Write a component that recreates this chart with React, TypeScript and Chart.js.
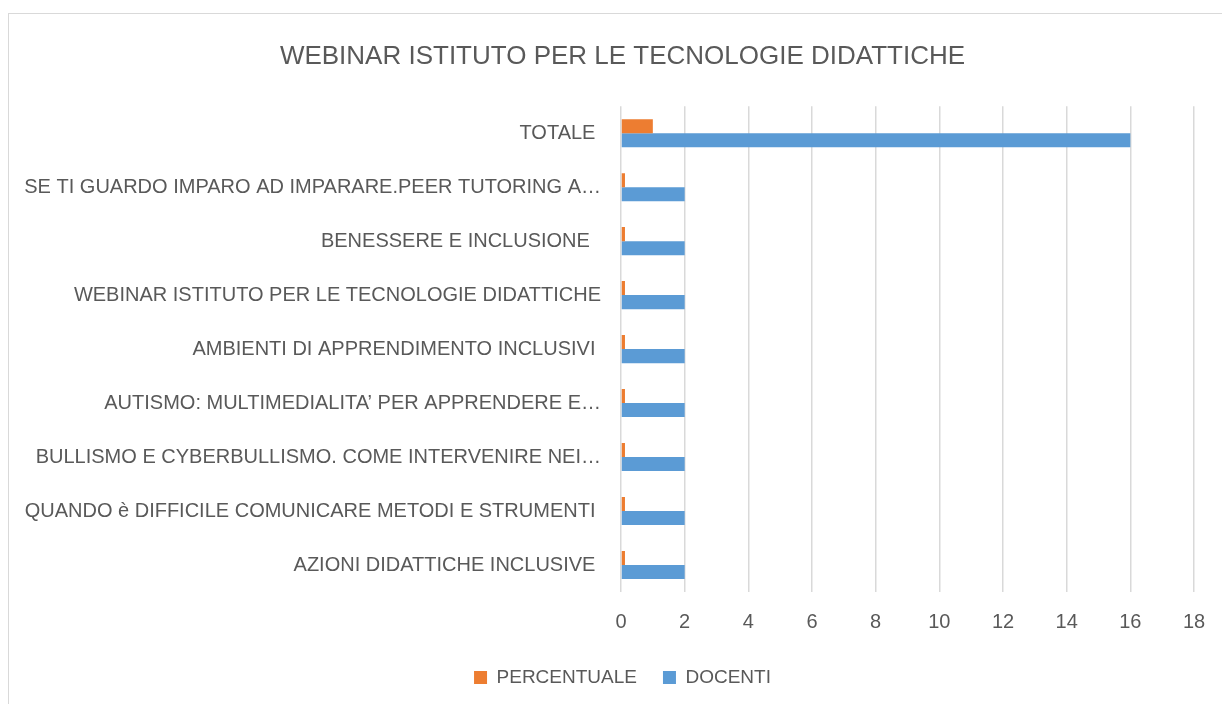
import React, { useEffect, useRef } from "react";
import { Chart, registerables } from "chart.js";

Chart.register(...registerables);

const categories = [
  "TOTALE ",
  "SE TI GUARDO IMPARO AD IMPARARE.PEER TUTORING A…",
  "BENESSERE E INCLUSIONE  ",
  "WEBINAR ISTITUTO PER LE TECNOLOGIE DIDATTICHE",
  "AMBIENTI DI APPRENDIMENTO INCLUSIVI ",
  "AUTISMO: MULTIMEDIALITA’ PER APPRENDERE E…",
  "BULLISMO E CYBERBULLISMO. COME INTERVENIRE NEI…",
  "QUANDO è DIFFICILE COMUNICARE METODI E STRUMENTI ",
  "AZIONI DIDATTICHE INCLUSIVE ",
];
const percentuale = [1, 0.125, 0.125, 0.125, 0.125, 0.125, 0.125, 0.125, 0.125];
const docenti = [16, 2, 2, 2, 2, 2, 2, 2, 2];
const xMax = 18;
const xStep = 2;
const title = "WEBINAR ISTITUTO PER LE TECNOLOGIE DIDATTICHE";

const FONT = "'Liberation Sans', Arial, sans-serif";
const TEXT = "#595959";

export default function App() {
  const ref = useRef<HTMLCanvasElement>(null);
  useEffect(() => {
    document.body.style.overflow = "hidden";
    const chart = new Chart(ref.current!, {
      type: "bar",
      data: {
        labels: categories,
        datasets: [
          {
            label: "PERCENTUALE",
            data: percentuale,
            backgroundColor: "#ED7D31",
            categoryPercentage: 0.52,
            barPercentage: 1,
          },
          {
            label: "DOCENTI",
            data: docenti,
            backgroundColor: "#5B9BD5",
            categoryPercentage: 0.52,
            barPercentage: 1,
          },
        ],
      },
      options: {
        indexAxis: "y",
        responsive: false,
        animation: false,
        layout: { padding: { left: 12, right: 12, top: 0, bottom: 17 } },
        plugins: {
          title: {
            display: true,
            text: title,
            color: TEXT,
            font: { family: FONT, size: 26, weight: "normal" },
            padding: { top: 27, bottom: 34 },
          },
          legend: {
            position: "bottom",
            labels: {
              color: TEXT,
              font: { family: FONT, size: 19 },
              boxWidth: 13,
              boxHeight: 13,
              padding: 26,
            },
          },
          tooltip: { enabled: false },
        },
        scales: {
          x: {
            min: 0,
            max: xMax,
            ticks: {
              stepSize: xStep,
              color: TEXT,
              font: { family: FONT, size: 20 },
              padding: 18,
            },
            grid: { color: "#d9d9d9", lineWidth: 1.5, drawTicks: false },
            border: { display: false },
            afterFit: (s: any) => {
              s.height = 50;
            },
          },
          y: {
            ticks: {
              color: TEXT,
              font: { family: FONT, size: 20 },
              padding: 20,
              autoSkip: false,
            },
            grid: { display: false, drawTicks: false },
            border: { display: false },
            afterFit: (s: any) => {
              s.width = 600;
            },
          },
          spacer: {
            type: "linear",
            position: "right",
            display: true,
            ticks: { display: false },
            grid: { display: false, drawTicks: false },
            border: { display: false },
            afterFit: (s: any) => {
              s.width = 30;
            },
          },
        },
      },
    });
    return () => chart.destroy();
  }, []);
  return (
    <div
      style={{
        position: "fixed",
        left: 8,
        top: 13,
        width: 1214,
        height: 691,
        overflow: "hidden",
        borderLeft: "1.5px solid #d9d9d9",
        borderTop: "1.5px solid #d9d9d9",
        background: "#fff",
      }}
    >
      <canvas ref={ref} width={1227} height={700} style={{ display: "block" }} />
    </div>
  );
}
